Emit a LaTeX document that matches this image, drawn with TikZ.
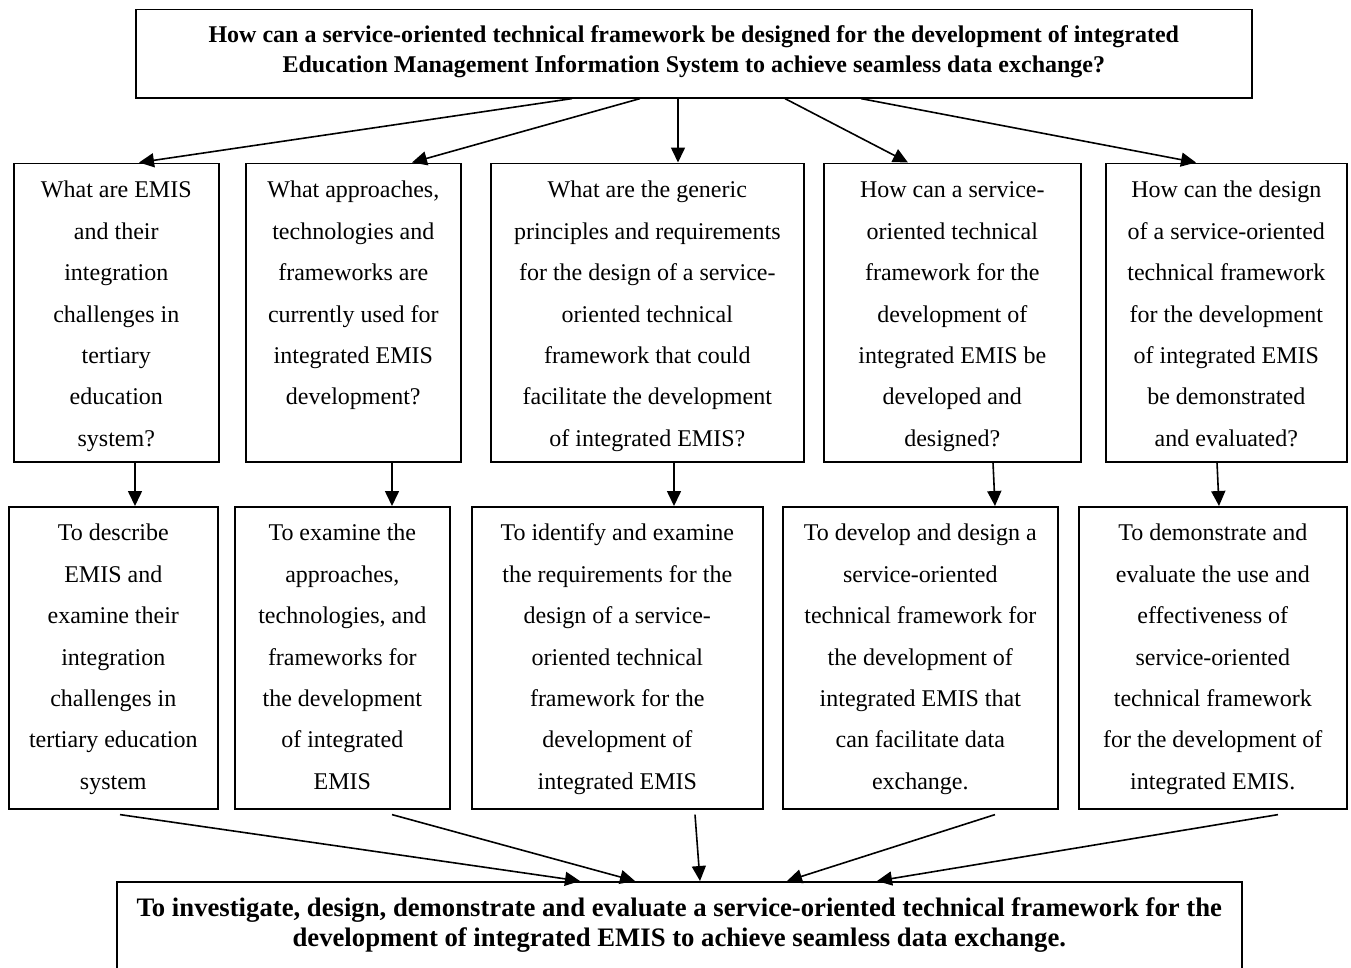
\documentclass[tikz,border=0pt]{standalone}
\usepackage{fontspec}
\setmainfont{Liberation Serif}
\usetikzlibrary{arrows.meta, positioning}

% first-line struts that fix where the text starts in a box
\newcommand{\qtop}{\rule{0pt}{34.5pt}}
\newcommand{\otop}{\rule{0pt}{34pt}}

\begin{document}
\begin{tikzpicture}[x=1pt, y=-1pt,
  box/.style={draw, line width=1.6pt, inner xsep=0pt, inner ysep=0pt, anchor=north west, align=center},
  qbox/.style={box, minimum width=#1, font=\fontsize{24}{41.4}\selectfont,
    execute at end node={\rule[-15.6pt]{0pt}{15.6pt}}},
  obox/.style={box, minimum width=#1, font=\fontsize{24}{41.4}\selectfont,
    execute at end node={\rule[-19.6pt]{0pt}{19.6pt}}},
  mainbox/.style={box, minimum width=#1},
  arr/.style={-{Triangle[length=15pt, width=14pt]}, line width=1.6pt},
]
  \useasboundingbox (0,0) rectangle (1351,967);

  % main research question
  \node[mainbox=1116pt, font=\fontsize{24}{30}\selectfont\bfseries, execute at end node={\rule[-25pt]{0pt}{25pt}}] (top) at (135,8.5)
    {\rule{0pt}{33.5pt}How can a service-oriented technical framework be designed for the development of integrated\\
     Education Management Information System to achieve seamless data exchange?};

  % sub-questions
  \node[qbox=205pt] (q1) at (13,162.5) {\qtop What are EMIS\\and their\\integration\\challenges in\\tertiary\\education\\system?};
  \node[qbox=215pt, execute at end node={\rule[-57pt]{0pt}{57pt}}] (q2) at (245,162.5)
    {\qtop What approaches,\\technologies and\\frameworks are\\currently used for\\integrated EMIS\\development?};
  \node[qbox=313pt] (q3) at (490,162.5) {\qtop What are the generic\\principles and requirements\\for the design of a service-\\oriented technical\\framework that could\\facilitate the development\\of integrated EMIS?};
  \node[qbox=257pt] (q4) at (823,162.5) {\qtop How can a service-\\oriented technical\\framework for the\\development of\\integrated EMIS be\\developed and\\designed?};
  \node[qbox=241pt] (q5) at (1105,162.5) {\qtop How can the design\\of a service-oriented\\technical framework\\for the development\\of integrated EMIS\\be demonstrated\\and evaluated?};

  % objectives
  \node[obox=209pt] (o1) at (8,506) {\otop To describe\\EMIS and\\examine their\\integration\\challenges in\\tertiary education\\system};
  \node[obox=215pt] (o2) at (234,506) {\otop To examine the\\approaches,\\technologies, and\\frameworks for\\the development\\of integrated\\EMIS};
  \node[obox=291pt] (o3) at (471,506) {\otop To identify and examine\\the requirements for the\\design of a service-\\oriented technical\\framework for the\\development of\\integrated EMIS};
  \node[obox=275pt] (o4) at (782,506) {\otop To develop and design a\\service-oriented\\technical framework for\\the development of\\integrated EMIS that\\can facilitate data\\exchange.};
  \node[obox=268pt] (o5) at (1078,506) {\otop To demonstrate and\\evaluate the use and\\effectiveness of\\service-oriented\\technical framework\\for the development of\\integrated EMIS.};

  % main objective
  \node[mainbox=1125pt, font=\fontsize{26.7}{30}\selectfont\bfseries, execute at end node={\rule[-24pt]{0pt}{24pt}}] (aim) at (116,881)
    {\rule{0pt}{35pt}To investigate, design, demonstrate and evaluate a service-oriented technical framework for the\\
     development of integrated EMIS to achieve seamless data exchange.};

  % question -> sub-questions
  \draw[arr] ([xshift=437pt]top.south west) -- ([xshift=126pt]q1.north west);
  \draw[arr] ([xshift=505pt]top.south west) -- ([xshift=167pt]q2.north west);
  \draw[arr] ([xshift=543pt]top.south west) -- ([xshift=188pt]q3.north west);
  \draw[arr] ([xshift=650pt]top.south west) -- ([xshift=85pt]q4.north west);
  \draw[arr] ([xshift=726pt]top.south west) -- ([xshift=91pt]q5.north west);

  % sub-questions -> objectives
  \draw[arr] ([xshift=122pt]q1.south west) -- ([xshift=127pt]o1.north west);
  \draw[arr] ([xshift=147pt]q2.south west) -- ([xshift=158pt]o2.north west);
  \draw[arr] ([xshift=184pt]q3.south west) -- ([xshift=203pt]o3.north west);
  \draw[arr] ([xshift=170pt]q4.south west) -- ([xshift=213pt]o4.north west);
  \draw[arr] ([xshift=112pt]q5.south west) -- ([xshift=141pt]o5.north west);

  % objectives -> main objective
  \draw[arr] ([xshift=112pt, yshift=-5pt]o1.south west) -- ([xshift=464pt]aim.north west);
  \draw[arr] ([xshift=158pt, yshift=-5pt]o2.south west) -- ([xshift=519pt]aim.north west);
  \draw[arr] ([xshift=224pt, yshift=-5pt]o3.south west) -- ([xshift=584pt]aim.north west);
  \draw[arr] ([xshift=213pt, yshift=-5pt]o4.south west) -- ([xshift=671pt]aim.north west);
  \draw[arr] ([xshift=200pt, yshift=-5pt]o5.south west) -- ([xshift=761pt]aim.north west);
\end{tikzpicture}
\end{document}
